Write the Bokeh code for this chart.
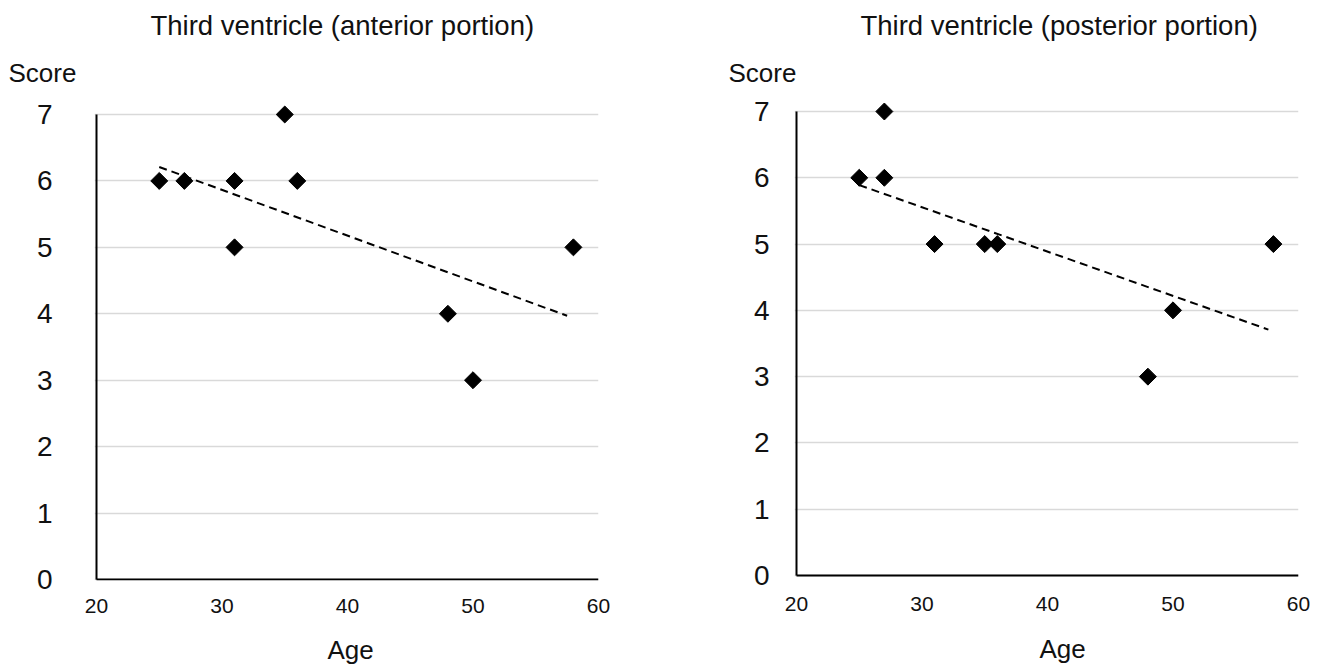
import math
from bokeh.plotting import figure
from bokeh.models import Range1d, FixedTicker, Title
from bokeh.layouts import row
from bokeh.embed import file_html
from bokeh.resources import INLINE

# ---- data ----
age_ant = [25, 27, 31, 31, 35, 36, 48, 50, 58]
score_ant = [6, 6, 6, 5, 7, 6, 4, 3, 5]
trend_ant_x = [25, 57.5]
trend_ant_y = [6.21, 3.97]

age_post = [25, 27, 27, 31, 35, 36, 48, 50, 58]
score_post = [6, 7, 6, 5, 5, 5, 3, 4, 5]
trend_post_x = [25, 57.6]
trend_post_y = [5.89, 3.71]

x_ticks = [20, 30, 40, 50, 60]
y_ticks = [0, 1, 2, 3, 4, 5, 6, 7]

titles = ["Third ventricle (anterior portion)", "Third ventricle (posterior portion)"]
y_label = "Score"
x_label = "Age"

FONT = "Liberation Sans"
TXT = "#111111"
PX_PER_YEAR = 502 / 40.0
PAD = 2  # px of frame left of the y axis so its line is not clipped


def panel(xs, ys, tx, ty, title, bl, br, y_lo, y_hi, y_standoff, x_standoff,
          score_offset, title_offset, age_offset, age_so):
    p = figure(frame_width=502 + PAD, frame_height=480,
               x_range=Range1d(x_ticks[0] - PAD / PX_PER_YEAR, x_ticks[-1]),
               y_range=Range1d(y_lo, y_hi),
               output_backend="svg", toolbar_location=None,
               min_border_left=bl - PAD, min_border_right=br,
               min_border_top=100, min_border_bottom=88)
    p.outline_line_color = None
    p.background_fill_color = "white"
    p.border_fill_color = "white"

    p.xgrid.grid_line_color = None
    p.ygrid.grid_line_color = "#d9d9d9"
    p.ygrid.grid_line_width = 1.5

    p.xaxis.ticker = FixedTicker(ticks=x_ticks)
    p.yaxis.ticker = FixedTicker(ticks=y_ticks)
    for ax in (p.xaxis, p.yaxis):
        ax.axis_line_color = None
        ax.major_tick_line_color = None
        ax.minor_tick_line_color = None
        ax.major_tick_in = 0
        ax.major_tick_out = 0
        ax.minor_tick_in = 0
        ax.minor_tick_out = 0
        ax.major_label_text_font = FONT
        ax.major_label_text_color = TXT
    p.xaxis.major_label_text_font_size = "21px"
    p.xaxis.major_label_standoff = x_standoff
    p.yaxis.major_label_text_font_size = "28px"
    p.yaxis.major_label_standoff = y_standoff + PAD

    # axis lines: y from 0 to 7, x from 20 to 60 at score 0
    p.segment(x0=[x_ticks[0], x_ticks[0]], y0=[y_ticks[0], y_ticks[0]],
              x1=[x_ticks[0], x_ticks[-1]], y1=[y_ticks[-1], y_ticks[0]],
              line_color="black", line_width=2)

    p.line(tx, ty, line_color="black", line_width=2, line_dash="8 5")
    p.scatter(xs, ys, marker="square", angle=math.pi / 4, size=12,
              fill_color="black", line_color="black")

    p.add_layout(Title(text=y_label, align="left", offset=score_offset,
                       text_font=FONT, text_font_size="26px", text_color=TXT,
                       text_font_style="normal", standoff=26), "above")
    p.add_layout(Title(text=title, align="left", offset=title_offset,
                       text_font=FONT, text_font_size="27.5px", text_color=TXT,
                       text_font_style="normal", standoff=4), "above")
    p.add_layout(Title(text=x_label, align="left", offset=age_offset,
                       text_font=FONT, text_font_size="26px", text_color=TXT,
                       text_font_style="normal", standoff=age_so), "below")
    return p


# left: 0 just inside the frame bottom, 7 at 15 px below the frame top (66.43 px per unit)
p1 = panel(age_ant, score_ant, trend_ant_x, trend_ant_y, titles[0],
           96, 62, -1 / 66.43, 479 / 66.43, 40, 18, -86, 56, 233, 34)
# right: 0 at 5 px above the frame bottom, 7 at 11 px below the frame top
p2 = panel(age_post, score_post, trend_post_x, trend_post_y, titles[1],
           136, 14, -5 / 66.28, 7 + 11 / 66.28, 23, 16, -66, 66, 245, 36)

layout = row(p1, p2, spacing=0)

open("out.html", "w").write(file_html(layout, INLINE))
